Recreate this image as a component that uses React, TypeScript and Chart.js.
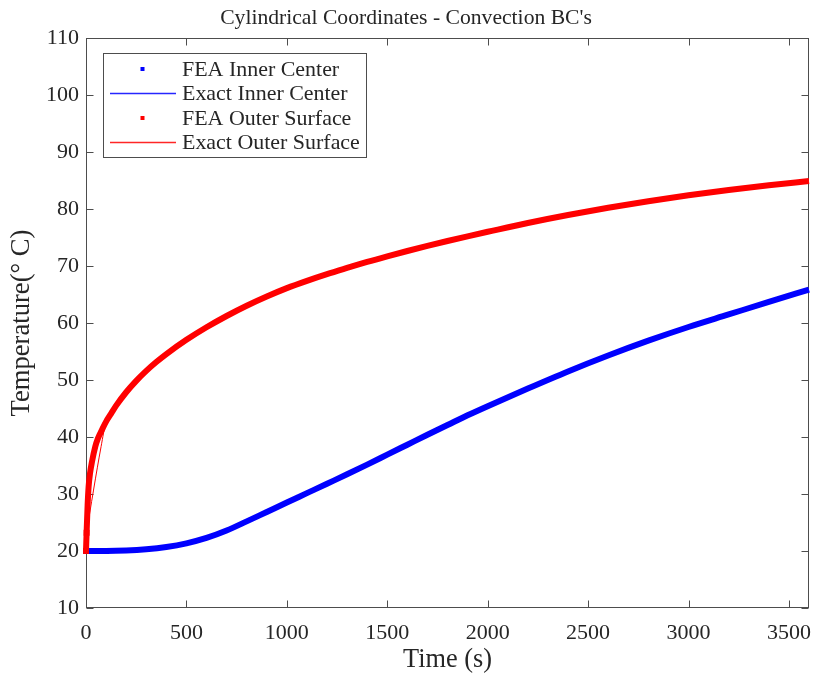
import React, { useEffect, useRef } from "react";
import { Chart, registerables } from "chart.js";

Chart.register(...registerables);

// ---------- text ----------
const TITLE = "Cylindrical Coordinates - Convection BC's";
const X_LABEL = "Time (s)";
const Y_LABEL = "Temperature(° C)";
const LEGEND_LABELS = [
  "FEA Inner Center",
  "Exact Inner Center",
  "FEA Outer Surface",
  "Exact Outer Surface",
];

// ---------- axes ----------
const X_MIN = 0;
const X_MAX = 3600;
const X_TICKS = [0, 500, 1000, 1500, 2000, 2500, 3000, 3500];
const Y_MIN = 10;
const Y_MAX = 110;
const Y_TICKS = [10, 20, 30, 40, 50, 60, 70, 80, 90, 100, 110];

// ---------- data (time in s, temperature in °C) ----------
const INNER_TIME = [
  0, 100, 200, 300, 400, 500, 600, 700, 800, 900, 1000, 1100, 1200, 1300, 1400,
  1500, 1600, 1700, 1800, 1900, 2000, 2200, 2400, 2600, 2800, 3000, 3200, 3400, 3600,
];
const FEA_INNER = [
  20, 20, 20.08, 20.3, 20.7, 21.35, 22.3, 23.6, 25.2, 26.85, 28.5, 30.15, 31.8, 33.45, 35.15,
  36.9, 38.65, 40.4, 42.1, 43.8, 45.4, 48.5, 51.5, 54.3, 56.9, 59.3, 61.5, 63.7, 65.85,
];
const EXACT_INNER = [
  20, 20, 20.08, 20.3, 20.7, 21.35, 22.3, 23.6, 25.2, 26.85, 28.5, 30.15, 31.8, 33.45, 35.15,
  36.9, 38.65, 40.4, 42.1, 43.8, 45.4, 48.5, 51.5, 54.3, 56.9, 59.3, 61.5, 63.7, 65.85,
];

const OUTER_TIME = [
  0, 3, 8, 13, 20, 30, 46, 60, 80, 100, 125, 150, 200, 250, 300, 350, 400,
  500, 600, 700, 800, 900, 1000, 1100, 1200, 1300, 1400, 1500, 1600, 1700, 1800, 1900, 2000,
  2200, 2400, 2600, 2800, 3000, 3200, 3400, 3600,
];
const FEA_OUTER = [
  20, 23.2, 28, 31.3, 33.6, 35.7, 38.3, 39.8, 41.3, 42.7, 44.1, 45.5, 47.85, 49.85, 51.6, 53.15, 54.55,
  57.05, 59.25, 61.23, 63.03, 64.65, 66.12, 67.4, 68.58, 69.66, 70.71, 71.69, 72.63, 73.53, 74.39, 75.21, 76.0,
  77.55, 78.95, 80.22, 81.37, 82.4, 83.33, 84.15, 84.9,
];
const EXACT_OUTER_TIME = [
  0, 75, 100, 125, 150, 200, 250, 300, 350, 400,
  500, 600, 700, 800, 900, 1000, 1100, 1200, 1300, 1400, 1500, 1600, 1700, 1800, 1900, 2000,
  2200, 2400, 2600, 2800, 3000, 3200, 3400, 3600,
];
const EXACT_OUTER = [
  22.8, 38.3, 42.7, 44.1, 45.5, 47.85, 49.85, 51.6, 53.15, 54.55,
  57.05, 59.25, 61.23, 63.03, 64.65, 66.12, 67.4, 68.58, 69.66, 70.71, 71.69, 72.63, 73.53, 74.39, 75.21, 76.0,
  77.55, 78.95, 80.22, 81.37, 82.4, 83.33, 84.15, 84.9,
];

const BLUE = "#0000ff";
const RED = "#ff0000";
const TEXT = "#262626";
const AXIS = "#4d4d4d";
const FONT = '"Liberation Serif"';

const zip = (xs: number[], ys: number[]) => xs.map((x, i) => ({ x, y: ys[i] }));

function fitFont(ctx: CanvasRenderingContext2D, text: string, target: number) {
  ctx.font = `100px ${FONT}`;
  const w = ctx.measureText(text).width;
  const size = (100 * target) / w;
  ctx.font = `${size}px ${FONT}`;
  return size;
}

const framePlugin = {
  id: "matlabFrame",
  beforeDatasetsDraw(chart: any) {
    const { ctx, chartArea } = chart;
    const { left, right, top, bottom } = chartArea;
    const xs = chart.scales.x;
    const ys = chart.scales.y;
    const L = Math.round(left) + 0.5;
    const R = Math.round(right) - 0.5;
    const T = Math.round(top) + 0.5;
    const B = Math.round(bottom) - 0.5;
    ctx.save();
    ctx.strokeStyle = AXIS;
    ctx.lineWidth = 1;
    ctx.strokeRect(L, T, R - L, B - T);
    const tl = 7;
    ctx.beginPath();
    xs.ticks.forEach((t: any) => {
      const p = Math.round(xs.getPixelForValue(t.value)) + 0.5;
      ctx.moveTo(p, B);
      ctx.lineTo(p, B - tl);
      ctx.moveTo(p, T);
      ctx.lineTo(p, T + tl);
    });
    ys.ticks.forEach((t: any) => {
      const p = Math.round(ys.getPixelForValue(t.value)) + 0.5;
      ctx.moveTo(L, p);
      ctx.lineTo(L + tl, p);
      ctx.moveTo(R, p);
      ctx.lineTo(R - tl, p);
    });
    ctx.stroke();
    ctx.restore();
  },
  afterDraw(chart: any) {
    const { ctx, chartArea } = chart;
    ctx.save();
    ctx.fillStyle = TEXT;
    ctx.textAlign = "center";
    ctx.textBaseline = "middle";
    // title
    fitFont(ctx, TITLE, 372);
    ctx.fillText(TITLE, 406, 18);
    // x label
    fitFont(ctx, X_LABEL, 89);
    ctx.fillText(X_LABEL, (chartArea.left + chartArea.right) / 2, 660);
    // y label
    ctx.save();
    ctx.translate(22, (chartArea.top + chartArea.bottom) / 2);
    ctx.rotate(-Math.PI / 2);
    fitFont(ctx, Y_LABEL, 187);
    ctx.fillText(Y_LABEL, 0, 0);
    ctx.restore();

    // legend
    const bx = 103.5, by = 53.5, bw = 263, bh = 104;
    ctx.fillStyle = "#ffffff";
    ctx.fillRect(bx, by, bw, bh);
    ctx.strokeStyle = AXIS;
    ctx.lineWidth = 1;
    ctx.strokeRect(bx, by, bw, bh);
    const rows = [69, 93.5, 118, 142.5];
    const colors = [BLUE, BLUE, RED, RED];
    fitFont(ctx, LEGEND_LABELS[3], 178);
    ctx.textAlign = "left";
    LEGEND_LABELS.forEach((lab, i) => {
      const y = rows[i];
      if (i % 2 === 0) {
        ctx.fillStyle = colors[i];
        ctx.fillRect(140.5, y - 2, 4, 4);
      } else {
        ctx.save();
        ctx.strokeStyle = colors[i];
        ctx.globalAlpha = 0.85;
        ctx.lineWidth = 1.4;
        ctx.beginPath();
        ctx.moveTo(110, y);
        ctx.lineTo(176, y);
        ctx.stroke();
        ctx.restore();
      }
      ctx.fillStyle = TEXT;
      ctx.fillText(lab, 182, y + 1);
    });
    ctx.restore();
  },
};

export default function App() {
  const ref = useRef<HTMLCanvasElement | null>(null);
  useEffect(() => {
    if (!ref.current) return;
    const feaStyle = (color: string) => ({
      showLine: true,
      borderColor: color,
      backgroundColor: color,
      borderWidth: 6,
      borderJoinStyle: "round" as const,
      cubicInterpolationMode: "monotone" as const,
      pointStyle: "rect" as const,
      pointRadius: (c: any) => (c.dataIndex < 2 ? 4.2 : 0),
      pointBorderWidth: 0,
      pointBackgroundColor: color,
      clip: false as any,
    });
    const exactStyle = (color: string) => ({
      showLine: true,
      borderColor: color,
      backgroundColor: color,
      borderWidth: 1,
      pointRadius: 0,
      cubicInterpolationMode: "monotone" as const,
      clip: false as any,
    });
    const chart = new Chart(ref.current, {
      type: "scatter",
      data: {
        datasets: [
          { label: LEGEND_LABELS[0], data: zip(INNER_TIME, FEA_INNER), ...feaStyle(BLUE), order: 4 },
          { label: LEGEND_LABELS[1], data: zip(INNER_TIME, EXACT_INNER), ...exactStyle(BLUE), order: 3 },
          { label: LEGEND_LABELS[2], data: zip(OUTER_TIME, FEA_OUTER), ...feaStyle(RED), order: 2 },
          { label: LEGEND_LABELS[3], data: zip(EXACT_OUTER_TIME, EXACT_OUTER), ...exactStyle(RED), order: 1 },
        ],
      },
      options: {
        responsive: false,
        animation: false,
        layout: { padding: { top: 38, right: 6, left: 0, bottom: 0 } },
        plugins: {
          legend: { display: false },
          title: { display: false },
          tooltip: { enabled: false },
        },
        scales: {
          x: {
            type: "linear",
            min: X_MIN,
            max: X_MAX,
            grid: { display: false, drawTicks: false },
            border: { display: false },
            afterBuildTicks: (s: any) => {
              s.ticks = X_TICKS.map((v) => ({ value: v }));
            },
            ticks: {
              autoSkip: false,
              maxRotation: 0,
              padding: 12,
              color: TEXT,
              font: { family: FONT, size: 22 },
              callback: (v: any) => String(v),
            },
            afterFit: (s: any) => {
              s.height = 69;
              s.paddingLeft = 0;
              s.paddingRight = 0;
            },
          },
          y: {
            type: "linear",
            min: Y_MIN,
            max: Y_MAX,
            grid: { display: false, drawTicks: false },
            border: { display: false },
            afterBuildTicks: (s: any) => {
              s.ticks = Y_TICKS.map((v) => ({ value: v }));
            },
            ticks: {
              autoSkip: false,
              padding: 7,
              color: TEXT,
              font: { family: FONT, size: 22 },
              callback: (v: any) => String(v),
            },
            afterFit: (s: any) => {
              s.width = 86;
              s.paddingTop = 0;
              s.paddingBottom = 0;
            },
          },
        },
      },
      plugins: [framePlugin],
    });
    return () => chart.destroy();
  }, []);
  return (
    <div style={{ position: "absolute", left: 0, top: 0, width: 815, height: 677, background: "#fff" }}>
      <canvas ref={ref} width={815} height={677} />
    </div>
  );
}
